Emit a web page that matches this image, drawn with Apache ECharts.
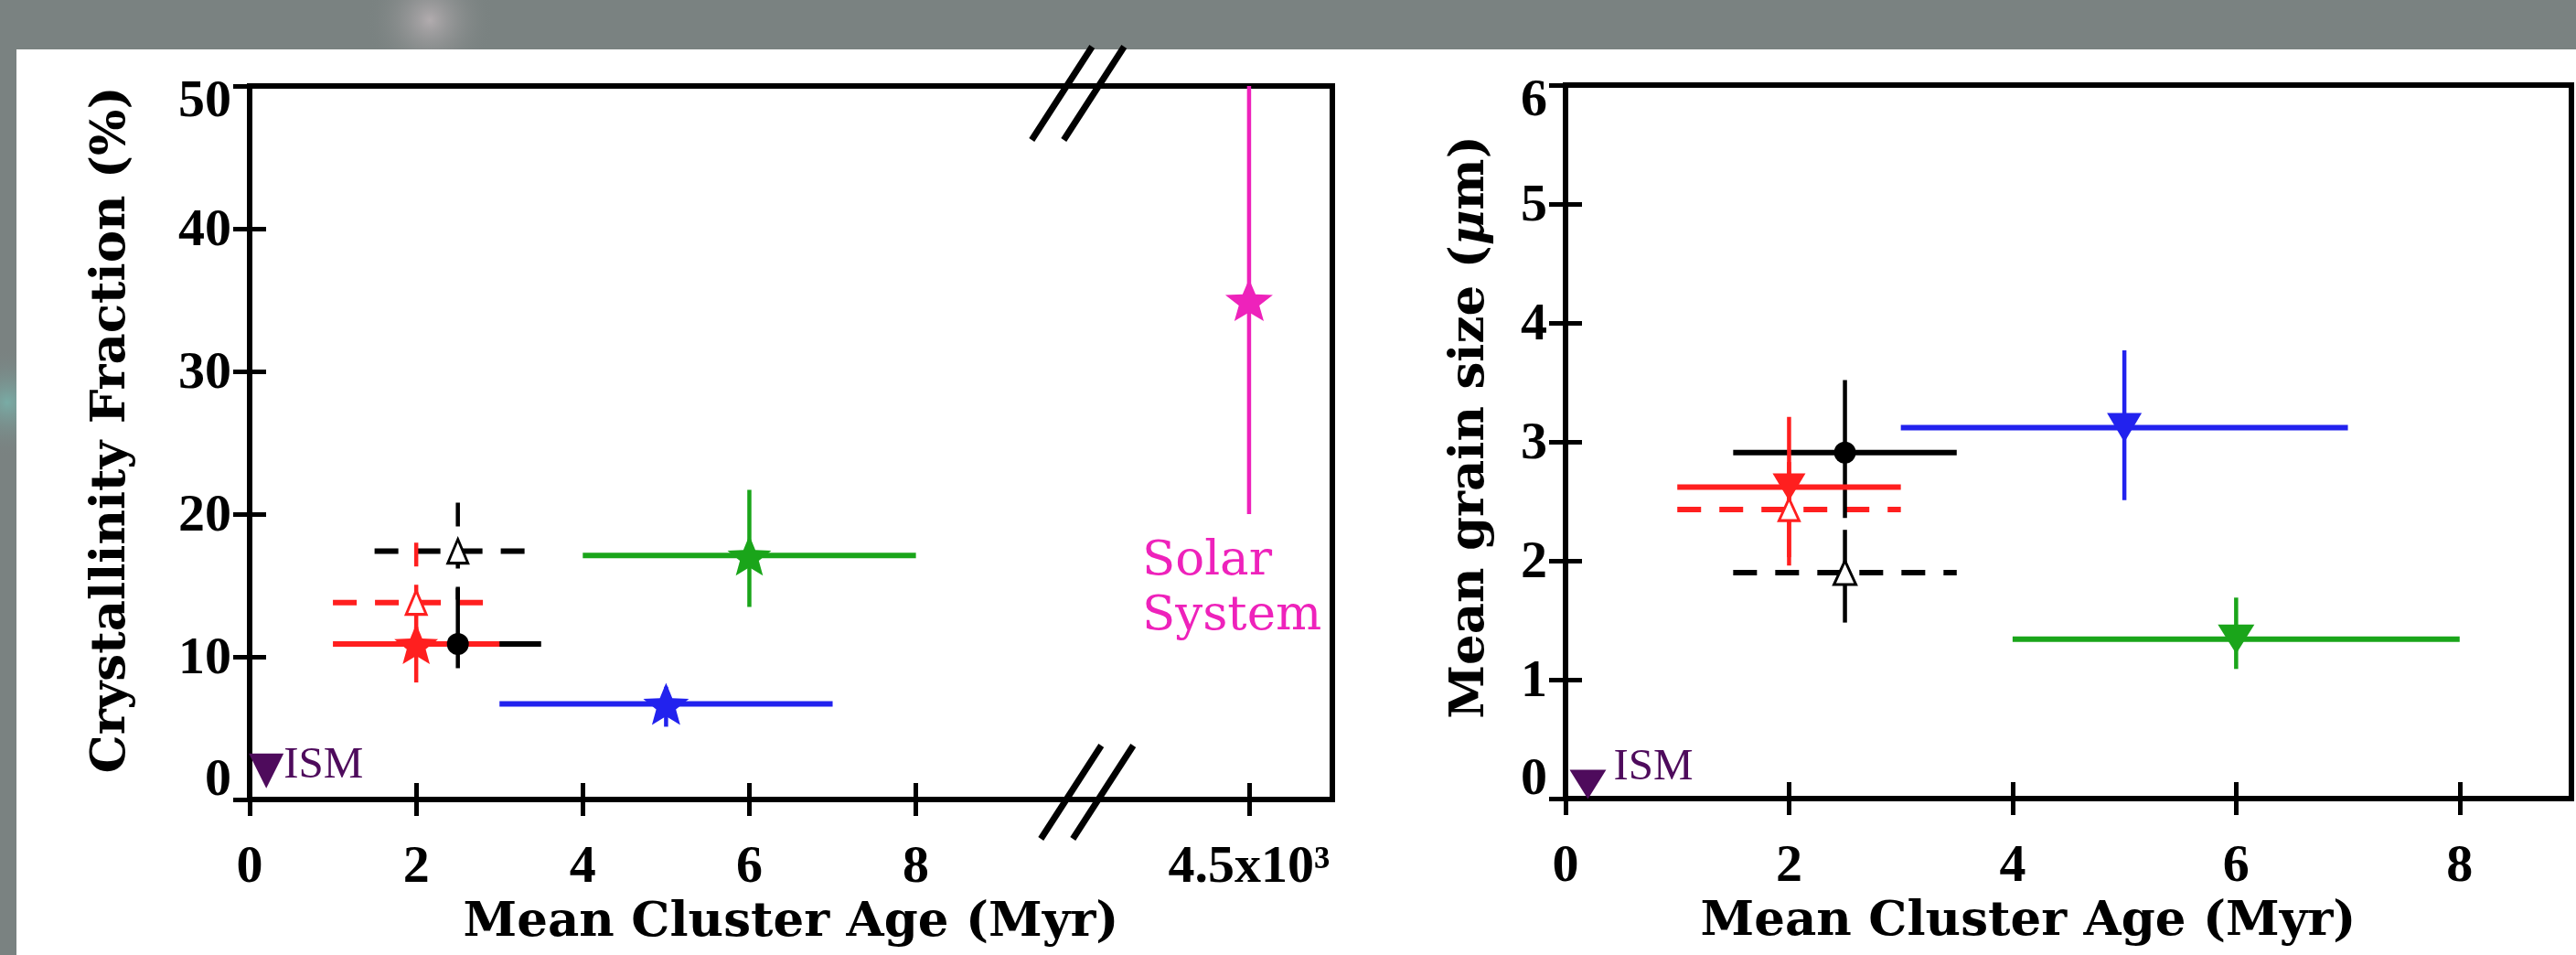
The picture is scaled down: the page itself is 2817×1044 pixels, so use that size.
<!DOCTYPE html>
<html>
<head>
<meta charset="utf-8">
<script src="https://cdn.jsdelivr.net/npm/echarts@6/dist/echarts.min.js"></script>
<style>
  html, body { margin: 0; padding: 0; background: #7a8281; }
  #chart { width: 2817px; height: 1044px; }
</style>
</head>
<body>
<div id="chart"></div>
<script>
// ---- data -------------------------------------------------------------
// Cluster groups, same order in every array: red, black, blue, green
const groupAge   = [2, 2.5, 5, 6];        // mean cluster age (Myr)
const groupAgeLo = [1, 1.5, 3, 4];
const groupAgeHi = [3, 3.5, 7, 8];

// Crystallinity fraction (%), filled symbols, solid bars
const crystVal = [10.9, 10.9, 6.7, 17.1];
const crystLo  = [8.2, 9.2, 5.1, 13.5];
const crystHi  = [13.6, 14.8, 7.9, 21.7];

// Crystallinity fraction (%), open triangles, dashed bars (red, black)
const crystAltVal = [13.8, 17.4];
const crystAltLo  = [9.6, 14.0];
const crystAltHi  = [18.0, 20.8];

// Mean grain size (um), filled symbols, solid bars
const grainVal = [2.62, 2.91, 3.12, 1.34];
const grainLo  = [1.96, 2.36, 2.51, 1.09];
const grainHi  = [3.21, 3.52, 3.77, 1.69];

// Mean grain size (um), open triangles, dashed bars (red, black)
const grainAltVal = [2.43, 1.90];
const grainAltLo  = [2.03, 1.48];
const grainAltHi  = [2.83, 2.26];

// ISM upper limits
const ismAge = 0.2;
const ismCryst = 2.0;
const ismGrain = 0.12;

// Solar System (drawn in the slot after the axis break)
const solarSlot = 12;
const solarCryst = 35;
const solarLo = 20;
const solarHi = 50;
const breakSlot = 10;

// tick labels
const leftAgeTicks  = [0, 2, 4, 6, 8, 12];
const leftAgeLabels = ['0', '2', '4', '6', '8', '4.5x10\u00B3'];
const rightAgeTicks = [0, 2, 4, 6, 8];

// ---- styles -----------------------------------------------------------
const groupColors = ['#ff1f1f', '#000000', '#2222ee', '#1aa51a'];
const altColors = ['#ff1f1f', '#000000'];
const pink = '#ee22bb';
const purple = '#4e0b5c';
const SERIF = "'DejaVu Serif', 'Liberation Serif', serif";
const TIMES = "'Liberation Serif', 'DejaVu Serif', serif";
const STAR = 'path://M0,-10 L2.6,-3.4 9.51,-3.09 4.1,1.4 5.88,8.09 0,4.4 -5.88,8.09 -4.1,1.4 -9.51,-3.09 -2.6,-3.4 Z';
const DOWN = 'path://M0,0 L10,0 L5,10 Z';
const UP = 'path://M5,0 L10,10 L0,10 Z';

const chart = echarts.init(document.getElementById('chart'), null, { renderer: 'canvas' });

function rows(ageA, loA, hiA, valA, vLoA, vHiA, idx) {
  return [[ageA[idx], valA[idx], loA[idx], hiA[idx], vLoA[idx], vHiA[idx]]];
}

function errorBars(gridIdx, data, color, hDash, vDash, z) {
  return {
    type: 'custom',
    xAxisIndex: gridIdx * 2,
    yAxisIndex: gridIdx * 2,
    clip: false,
    z: z,
    silent: true,
    encode: { x: 0, y: 1 },
    data: data,
    renderItem: function (params, api) {
      const x = api.value(0), y = api.value(1);
      const pL = api.coord([api.value(2), y]);
      const pR = api.coord([api.value(3), y]);
      const pB = api.coord([x, api.value(4)]);
      const pT = api.coord([x, api.value(5)]);
      const children = [];
      if (api.value(2) !== api.value(3)) {
        children.push({
          type: 'line',
          shape: { x1: pL[0], y1: pL[1], x2: pR[0], y2: pR[1] },
          style: { stroke: color, lineWidth: 6, lineDash: hDash ? [26, 20] : null, lineCap: 'butt' }
        });
      }
      children.push({
        type: 'line',
        shape: { x1: pT[0], y1: pT[1], x2: pB[0], y2: pB[1] },
        style: { stroke: color, lineWidth: 4.5, lineDash: vDash ? [26, 20] : null, lineCap: 'butt' }
      });
      return { type: 'group', children: children };
    }
  };
}

function marker(gridIdx, point, symbol, size, color, hollow, z, label) {
  const s = {
    type: 'scatter',
    xAxisIndex: gridIdx * 2,
    yAxisIndex: gridIdx * 2,
    silent: true,
    z: z,
    symbol: symbol,
    symbolSize: size,
    data: [point],
    itemStyle: hollow
      ? { color: '#ffffff', borderColor: color, borderWidth: 3, opacity: 1 }
      : { color: color, opacity: 1 },
    clip: false
  };
  if (label) s.label = label;
  return s;
}

const series = [];

// ---- left panel: crystallinity ----
// dashed open-triangle groups
[1, 0].forEach(function (i) {
  series.push(errorBars(0, rows(groupAge, groupAgeLo, groupAgeHi, crystAltVal, crystAltLo, crystAltHi, i), altColors[i], true, true, 2));
});
// solid groups: black, blue, green, red
[1, 2, 3, 0].forEach(function (i) {
  series.push(errorBars(0, rows(groupAge, groupAgeLo, groupAgeHi, crystVal, crystLo, crystHi, i), groupColors[i], false, false, 3));
});
// Solar System bar + caption
series.push({
  type: 'custom',
  xAxisIndex: 0, yAxisIndex: 0, clip: false, silent: true, z: 3,
  encode: { x: 0, y: 1 },
  data: [[solarSlot, solarCryst, solarLo, solarHi]],
  renderItem: function (params, api) {
    const pB = api.coord([api.value(0), api.value(2)]);
    const pT = api.coord([api.value(0), api.value(3)]);
    return {
      type: 'group',
      children: [
        { type: 'line', shape: { x1: pT[0], y1: pT[1], x2: pB[0], y2: pB[1] },
          style: { stroke: pink, lineWidth: 4.5 } },
        { type: 'text', x: pB[0] - 117, y: pB[1] + 22,
          style: { text: 'Solar\nSystem', fill: pink, font: "53px 'DejaVu Serif'", lineHeight: 60,
                   align: 'left', verticalAlign: 'top' } }
      ]
    };
  }
});
// axis break marks
series.push({
  type: 'custom',
  xAxisIndex: 0, yAxisIndex: 0, clip: false, silent: true, z: 6,
  encode: { x: 0, y: 1 },
  data: [[breakSlot, 50], [breakSlot, 0]],
  renderItem: function (params, api) {
    const p = api.coord([api.value(0), api.value(1)]);
    const top = params.dataIndex === 0;
    const cx = p[0] + (top ? -5 : 5);
    const cy = p[1] + (top ? 8 : -8);
    const kids = [-17.5, 17.5].map(function (dx) {
      return { type: 'line',
        shape: { x1: cx + dx - 33, y1: cy + 51, x2: cx + dx + 33, y2: cy - 51 },
        style: { stroke: '#000', lineWidth: 7, lineCap: 'butt' } };
    });
    return { type: 'group', children: kids };
  }
});
// symbols
series.push(marker(0, [groupAge[1], crystAltVal[1]], UP, [22, 26], '#000', true, 7));
series.push(marker(0, [groupAge[0], crystAltVal[0]], UP, [22, 26], altColors[0], true, 7));
series.push(marker(0, [groupAge[0], crystVal[0]], STAR, [48, 44], groupColors[0], false, 8));
series.push(marker(0, [groupAge[1], crystVal[1]], 'circle', 24, groupColors[1], false, 8));
series.push(marker(0, [groupAge[2], crystVal[2]], STAR, [50, 46], groupColors[2], false, 8));
series.push(marker(0, [groupAge[3], crystVal[3]], STAR, [48, 44], groupColors[3], false, 8));
series.push(marker(0, [solarSlot, solarCryst], STAR, [52, 46], pink, false, 8));
series.push(marker(0, [ismAge, ismCryst], DOWN, [38, 38], purple, false, 8, {
  show: true, position: 'right', distance: 0, offset: [0, -6], formatter: 'ISM',
  color: purple, fontFamily: TIMES, fontSize: 49
}));

// ---- right panel: grain size ----
[1, 0].forEach(function (i) {
  series.push(errorBars(1, rows(groupAge, groupAgeLo, groupAgeHi, grainAltVal, grainAltLo, grainAltHi, i), altColors[i], true, false, 2));
});
[1, 2, 3, 0].forEach(function (i) {
  series.push(errorBars(1, rows(groupAge, groupAgeLo, groupAgeHi, grainVal, grainLo, grainHi, i), groupColors[i], false, false, 3));
});
series.push(marker(1, [groupAge[1], grainAltVal[1]], UP, [24, 26], '#000', true, 7));
series.push(marker(1, [groupAge[0], grainAltVal[0]], UP, [22, 24], altColors[0], true, 7));
series.push(marker(1, [groupAge[0], grainVal[0]], DOWN, [36, 30], groupColors[0], false, 8));
series.push(marker(1, [groupAge[1], grainVal[1]], 'circle', 24, groupColors[1], false, 8));
series.push(marker(1, [groupAge[2], grainVal[2]], DOWN, [38, 32], groupColors[2], false, 8));
series.push(marker(1, [groupAge[3], grainVal[3]], DOWN, [40, 32], groupColors[3], false, 8));
series.push(marker(1, [ismAge, ismGrain], DOWN, [40, 32], purple, false, 8, {
  show: true, position: 'right', distance: 8, offset: [0, -18], formatter: 'ISM',
  color: purple, fontFamily: TIMES, fontSize: 49
}));

// ---- axes ---------------------------------------------------------------
const tickStyle = { show: true, inside: true, length: 18, lineStyle: { color: '#000', width: 5 } };
const labelBase = { fontFamily: TIMES, fontSize: 58, fontWeight: 'bold', color: '#000' };
const nameBase = { fontFamily: SERIF, fontSize: 53, fontWeight: 'bold', color: '#000' };

function yLabelFormatter(maxV) {
  return function (v) {
    if (v === maxV) return '{t|' + v + '}';
    if (v === 0) return '{b|' + v + '}';
    return '{m|' + v + '}';
  };
}
const yRich = {
  m: Object.assign({ padding: [6, 0, 0, 0] }, labelBase),
  t: Object.assign({ padding: [36, 0, 0, 0] }, labelBase),
  b: Object.assign({ padding: [0, 0, 40, 0] }, labelBase)
};

const option = {
  backgroundColor: '#7a8281',
  animation: false,
  graphic: [
    { type: 'circle', shape: { cx: 470, cy: 22, r: 70 }, z: -20, silent: true,
      style: { fill: new echarts.graphic.RadialGradient(0.5, 0.5, 0.5, [
        { offset: 0, color: 'rgba(215,200,205,0.6)' }, { offset: 1, color: 'rgba(122,130,129,0)' }]) } },
    { type: 'circle', shape: { cx: 8, cy: 440, r: 60 }, z: -20, silent: true,
      style: { fill: new echarts.graphic.RadialGradient(0.5, 0.5, 0.5, [
        { offset: 0, color: 'rgba(120,200,190,0.6)' }, { offset: 1, color: 'rgba(122,130,129,0)' }]) } },
    { type: 'rect', shape: { x: 18, y: 54, width: 2799, height: 990 }, z: -10, silent: true,
      style: { fill: '#ffffff' } }
  ],
  grid: [
    { left: 273, top: 94, width: 1184, height: 780, show: true, borderColor: '#000', borderWidth: 6, backgroundColor: '#ffffff' },
    { left: 1712, top: 93, width: 1100, height: 780, show: true, borderColor: '#000', borderWidth: 6, backgroundColor: '#ffffff' }
  ],
  xAxis: [
    { gridIndex: 0, type: 'value', position: 'bottom', min: 0, max: 13,
      axisLine: { show: false }, splitLine: { show: false },
      axisTick: Object.assign({ customValues: leftAgeTicks }, tickStyle),
      axisLabel: Object.assign({ customValues: leftAgeTicks, margin: 46,
        formatter: function (v) { return leftAgeLabels[leftAgeTicks.indexOf(v)]; } }, labelBase),
      name: 'Mean Cluster Age (Myr)', nameLocation: 'middle', nameGap: 94, nameTextStyle: nameBase },
    { gridIndex: 0, type: 'value', position: 'top', min: 0, max: 13,
      axisLine: { show: false }, splitLine: { show: false }, axisLabel: { show: false },
      axisTick: Object.assign({ customValues: leftAgeTicks }, tickStyle) },
    { gridIndex: 1, type: 'value', position: 'bottom', min: 0, max: 9,
      axisLine: { show: false }, splitLine: { show: false },
      axisTick: Object.assign({ customValues: rightAgeTicks }, tickStyle),
      axisLabel: Object.assign({ customValues: rightAgeTicks, margin: 46 }, labelBase),
      name: 'Mean Cluster Age (Myr)', nameLocation: 'middle', nameGap: 94,
      nameTextStyle: Object.assign({ padding: [0, 88, 0, 0] }, nameBase) },
    { gridIndex: 1, type: 'value', position: 'top', min: 0, max: 9,
      axisLine: { show: false }, splitLine: { show: false }, axisLabel: { show: false },
      axisTick: Object.assign({ customValues: rightAgeTicks }, tickStyle) }
  ],
  yAxis: [
    { gridIndex: 0, type: 'value', position: 'left', min: 0, max: 50, interval: 10,
      axisLine: { show: false }, splitLine: { show: false }, axisTick: tickStyle,
      axisLabel: { margin: 20, formatter: yLabelFormatter(50), rich: yRich },
      name: 'Crystallinity Fraction (%)', nameLocation: 'middle', nameGap: 124,
      nameTextStyle: Object.assign({ padding: [0, 0, 0, 28] }, nameBase) },
    { gridIndex: 0, type: 'value', position: 'right', min: 0, max: 50, interval: 10,
      axisLine: { show: false }, splitLine: { show: false }, axisLabel: { show: false }, axisTick: tickStyle },
    { gridIndex: 1, type: 'value', position: 'left', min: 0, max: 6, interval: 1,
      axisLine: { show: false }, splitLine: { show: false }, axisTick: tickStyle,
      axisLabel: { margin: 20, formatter: yLabelFormatter(6), rich: yRich },
      name: 'Mean grain size ({i|\u03BC}m)', nameLocation: 'middle', nameGap: 77,
      nameTextStyle: Object.assign({ padding: [0, 0, 0, 32],
        rich: { i: { fontFamily: SERIF, fontSize: 53, fontStyle: 'italic', fontWeight: 'bold', color: '#000' } } }, nameBase) },
    { gridIndex: 1, type: 'value', position: 'right', min: 0, max: 6, interval: 1,
      axisLine: { show: false }, splitLine: { show: false }, axisLabel: { show: false }, axisTick: tickStyle }
  ],
  series: series
};

chart.setOption(option);
</script>
</body>
</html>
